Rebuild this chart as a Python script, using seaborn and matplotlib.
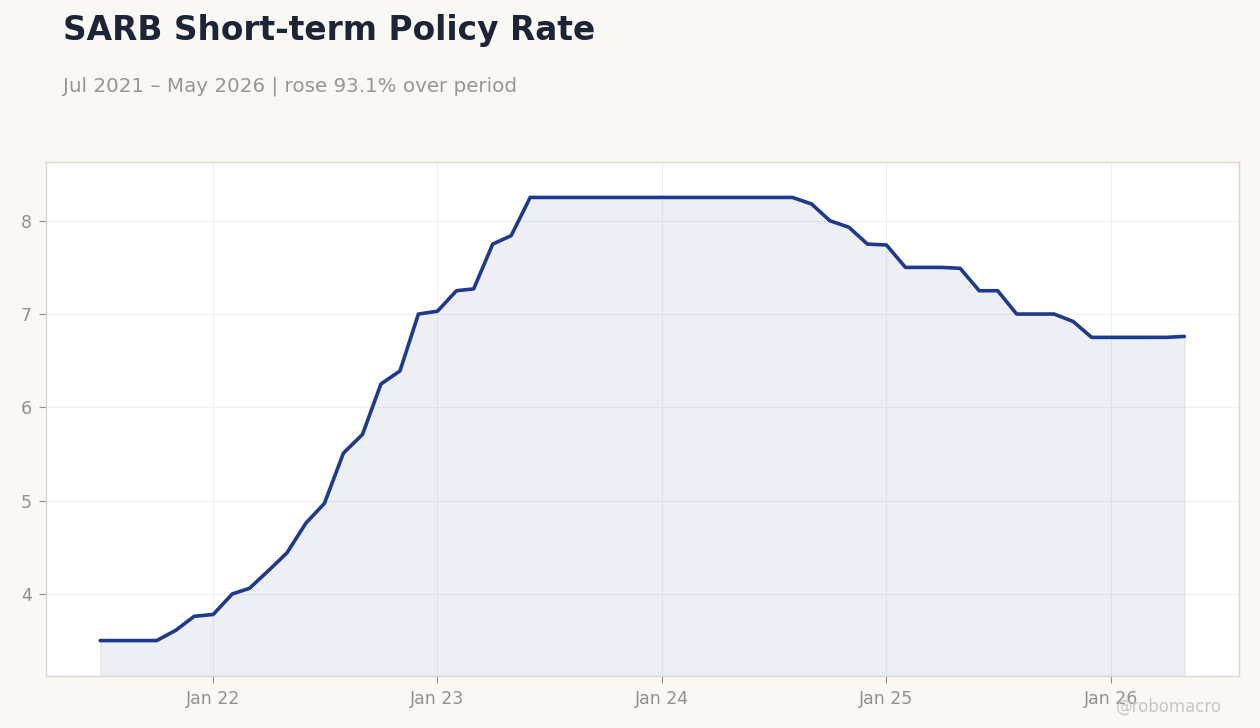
import matplotlib.pyplot as plt
import matplotlib.dates as mdates
import seaborn as sns
import pandas as pd

# SARB policy rate, monthly, Jul 2021 - May 2026
months = pd.date_range("2021-07-01", "2026-05-01", freq="MS")
rate = [3.50, 3.50, 3.50, 3.50, 3.61, 3.76,
        3.78, 4.00, 4.06, 4.25, 4.44, 4.76, 4.97, 5.51, 5.71, 6.25, 6.39, 7.00,
        7.03, 7.25, 7.27, 7.75, 7.84, 8.25, 8.25, 8.25, 8.25, 8.25, 8.25, 8.25,
        8.25, 8.25, 8.25, 8.25, 8.25, 8.25, 8.25, 8.25, 8.18, 8.00, 7.93, 7.75,
        7.74, 7.50, 7.50, 7.50, 7.49, 7.25, 7.25, 7.00, 7.00, 7.00, 6.92, 6.75,
        6.75, 6.75, 6.75, 6.75, 6.76]

df = pd.DataFrame({"date": months, "rate": rate})

title = "SARB Short-term Policy Rate"
subtitle = "Jul 2021 \u2013 May 2026 | rose 93.1% over period"

line_col = "#1e3a8a"
bg = "#f9f8f5"
grey = "#948f88"

sns.set_theme(style="whitegrid")
plt.rcParams["font.family"] = ["DejaVu Sans"]

fig = plt.figure(figsize=(12.6, 7.28), dpi=100, facecolor=bg)
ax = fig.add_axes([0.0365, 0.0714, 0.9465, 0.7061])
ax.set_facecolor("white")

sns.lineplot(data=df, x="date", y="rate", ax=ax, color=line_col, linewidth=2.6)
ymin, ymax = 3.12, 8.63
ax.fill_between(df["date"], df["rate"], ymin, color=line_col, alpha=0.08, linewidth=1)
ax.set_ylim(ymin, ymax)

ax.xaxis.set_major_locator(mdates.YearLocator())
ax.xaxis.set_major_formatter(mdates.DateFormatter("Jan %y"))
ax.set_yticks([4, 5, 6, 7, 8])
ax.set_xlabel("")
ax.set_ylabel("")

ax.grid(True, color="#f0f0f0", linewidth=0.8)
for s in ax.spines.values():
    s.set_color("#ddd6cc")
    s.set_linewidth(1)
ax.tick_params(axis="both", colors=grey, labelsize=12.5, length=5, width=0.8,
               labelcolor=grey, pad=5)
ax.tick_params(axis="both", bottom=True, left=True)

fig.text(0.05, 0.945, title, fontsize=23.7, fontweight="bold", color="#1c2536")
fig.text(0.05, 0.874, subtitle, fontsize=14.3, color="#999590")
fig.text(0.97, 0.022, "@robomacro", fontsize=12, color="#c9c6c1", ha="right")

fig.savefig("out.png", dpi=100, facecolor=bg)
